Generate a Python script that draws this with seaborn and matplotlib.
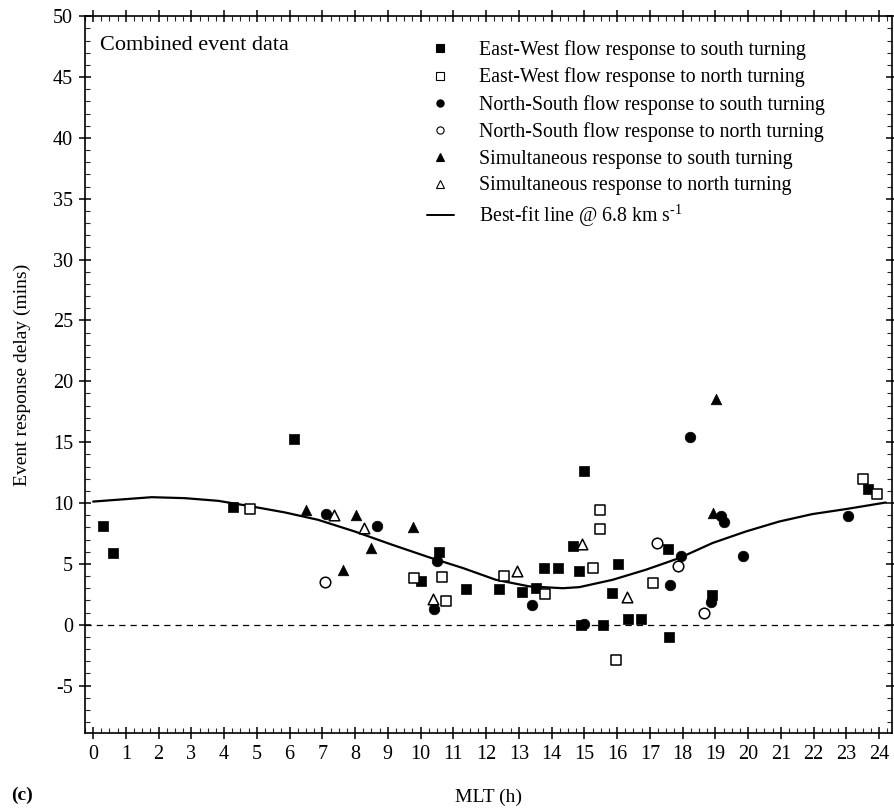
import numpy as np
import pandas as pd
import matplotlib
matplotlib.use("Agg")
import matplotlib.pyplot as plt
from matplotlib.ticker import MultipleLocator
from matplotlib.lines import Line2D
import seaborn as sns

# --- data (MLT in hours, delay in minutes) ---
ew_south_mlt = [0.31, 0.62, 4.28, 6.14, 10.0, 10.55, 11.38, 12.38, 13.1, 13.53, 13.78, 14.18,
                14.64, 14.85, 14.9, 15.0, 15.58, 15.83, 16.02, 16.34, 16.73, 17.56, 17.59, 18.89, 23.65]
ew_south_delay = [8.1, 5.9, 9.66, 15.25, 3.6, 5.94, 2.93, 2.93, 2.7, 3.0, 4.7, 4.7,
                  6.43, 4.4, 0.0, 12.6, -0.05, 2.6, 5.0, 0.47, 0.47, 6.21, -1.04, 2.46, 11.17]

ew_north_mlt = [4.79, 9.79, 10.65, 10.76, 12.54, 13.8, 15.27, 15.48, 15.48, 15.97, 17.1, 23.52, 23.94]
ew_north_delay = [9.52, 3.8, 3.9, 1.92, 4.0, 2.53, 4.63, 9.44, 7.85, -2.87, 3.42, 11.99, 10.73]

ns_south_mlt = [7.1, 8.66, 10.4, 10.5, 13.4, 15.0, 17.61, 17.96, 18.22, 18.86, 19.17, 19.27, 19.83, 23.06]
ns_south_delay = [9.09, 8.15, 1.3, 5.2, 1.6, 0.1, 3.28, 5.61, 15.41, 1.83, 8.95, 8.48, 5.61, 8.95]

ns_north_mlt = [7.09, 17.22, 17.85, 18.66]
ns_north_delay = [3.5, 6.73, 4.79, 0.96]

sim_south_mlt = [6.51, 7.64, 8.04, 8.5, 9.77, 18.94, 19.01]
sim_south_delay = [9.44, 4.5, 9.03, 6.3, 8.07, 9.17, 18.53]

sim_north_mlt = [7.36, 8.28, 10.39, 12.93, 14.93, 16.29]
sim_north_delay = [9.0, 7.97, 2.1, 4.45, 6.62, 2.24]

fit_mlt = [0.0, 1.79, 2.8, 3.82, 4.84, 5.85, 6.87, 7.99, 9.1, 10.27, 11.3, 12.3, 13.32,
           14.34, 14.85, 15.86, 16.88, 17.9, 18.91, 19.93, 20.95, 21.96, 22.98, 24.2]
fit_delay = [10.12, 10.48, 10.4, 10.18, 9.72, 9.23, 8.62, 7.66, 6.6, 5.53, 4.65, 3.69, 3.15,
             3.0, 3.09, 3.69, 4.52, 5.48, 6.71, 7.66, 8.48, 9.09, 9.5, 10.04]

labels = ["East-West flow response to south turning",
          "East-West flow response to north turning",
          "North-South flow response to south turning",
          "North-South flow response to north turning",
          "Simultaneous response to south turning",
          "Simultaneous response to north turning"]
markers = ["s", "s", "o", "o", "^", "^"]
filled = [True, False, True, False, True, False]

groups = [(ew_south_mlt, ew_south_delay), (ew_north_mlt, ew_north_delay),
          (ns_south_mlt, ns_south_delay), (ns_north_mlt, ns_north_delay),
          (sim_south_mlt, sim_south_delay), (sim_north_mlt, sim_north_delay)]

frames = []
for lab, (xs, ys) in zip(labels, groups):
    frames.append(pd.DataFrame({"MLT": xs, "Delay": ys, "Type": lab}))
df = pd.concat(frames, ignore_index=True)
fit_df = pd.DataFrame({"MLT": fit_mlt, "Delay": fit_delay})

# --- style ---
sns.set_theme(style="ticks")
plt.rcParams["font.family"] = ["Liberation Serif", "DejaVu Serif"]
plt.rcParams["mathtext.fontset"] = "custom"
plt.rcParams["mathtext.rm"] = "Liberation Serif"
plt.rcParams["mathtext.it"] = "Liberation Serif:italic"
plt.rcParams["axes.unicode_minus"] = False
plt.rcParams["text.color"] = "black"
plt.rcParams["axes.labelcolor"] = "black"

fig = plt.figure(figsize=(8.94, 8.10), dpi=100)
ax = fig.add_axes([0.095, 0.095, 0.903, 0.885])

# zero reference
ax.axhline(0, color="black", lw=0.9, ls=(0, (5, 4)))

# best-fit line
sns.lineplot(data=fit_df, x="MLT", y="Delay", ax=ax, color="black", lw=1.6,
             sort=False, estimator=None)

# events
for lab, mk, fl in zip(labels, markers, filled):
    sub = df[df["Type"] == lab]
    size = 58
    if fl:
        sns.scatterplot(data=sub, x="MLT", y="Delay", ax=ax, marker=mk, s=size,
                        color="black", edgecolor="black", linewidth=0.5, zorder=3)
    else:
        sns.scatterplot(data=sub, x="MLT", y="Delay", ax=ax, marker=mk, s=size,
                        color="white", edgecolor="black", linewidth=1.1, zorder=3)

ax.set_xlim(-0.25, 24.4)
ax.set_ylim(-8.9, 50)
ax.xaxis.set_major_locator(MultipleLocator(1))
ax.xaxis.set_minor_locator(MultipleLocator(0.25))
ax.yaxis.set_major_locator(MultipleLocator(5))
ax.yaxis.set_minor_locator(MultipleLocator(1))
ax.tick_params(which="major", direction="inout", length=9, width=1.1,
               top=True, right=True, labelsize=14.5, colors="black", pad=4)
ax.tick_params(which="minor", direction="in", length=3.5, width=0.8,
               top=True, right=True)
for sp in ax.spines.values():
    sp.set_linewidth(1.2)
    sp.set_color("black")

ax.set_xlabel("MLT (h)", fontsize=14, labelpad=18)
ax.set_ylabel("Event response delay (mins)", fontsize=14, labelpad=16)

ax.text(0.21, 47.6, "Combined event data", fontsize=16, va="center", ha="left")
fig.text(0.012, 0.012, "(c)", fontsize=14, fontweight="bold")

# legend
handles = []
for lab, mk, fl in zip(labels, markers, filled):
    handles.append(Line2D([], [], ls="none", marker=mk, markersize=5.2,
                          markerfacecolor="black" if fl else "white",
                          markeredgecolor="black", markeredgewidth=0.8))
handles.append(Line2D([], [], color="black", lw=1.4))
leg_labels = labels + [r"Best-fit line @ 6.8 km s$^{\text{-1}}$"]
ax.legend(handles, leg_labels, loc="upper left", bbox_to_anchor=(0.406, 0.986),
          frameon=False, fontsize=14.3, handlelength=1.36, handletextpad=1.3,
          labelspacing=0.38, borderaxespad=0.3)

fig.savefig("out.png", dpi=100)
